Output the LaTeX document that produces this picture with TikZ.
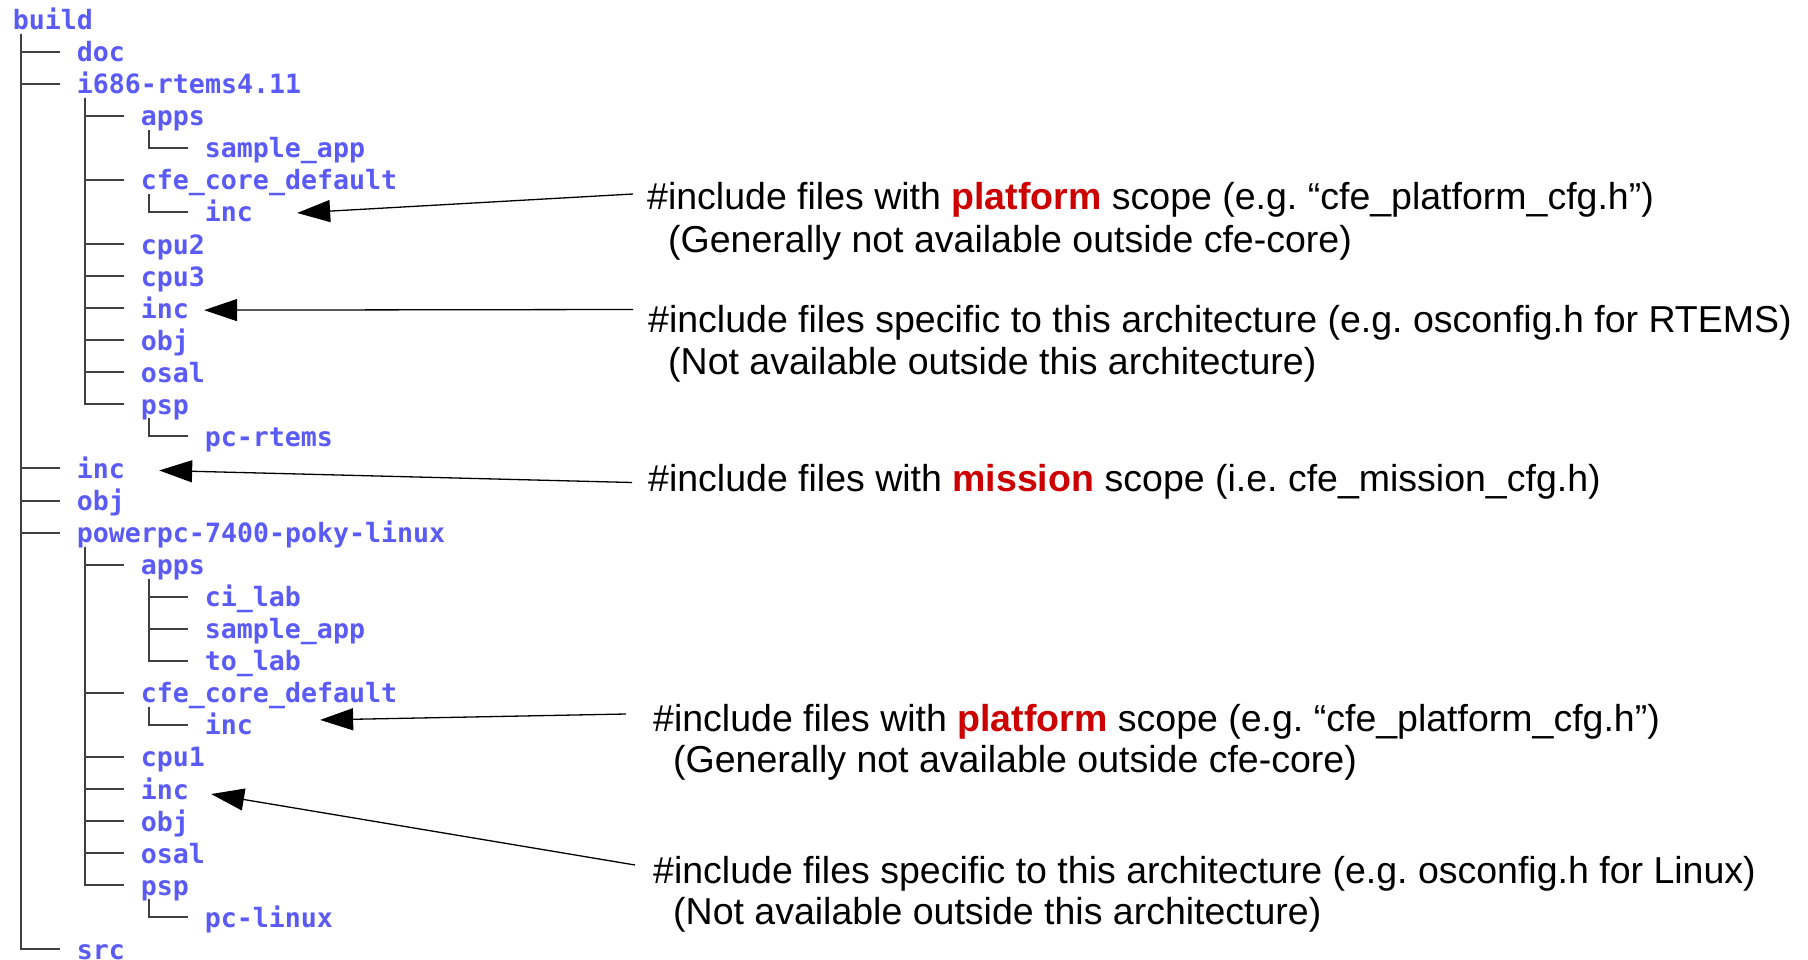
\documentclass[tikz,border=0pt]{standalone}
\usepackage{fontspec}
\setmainfont{Liberation Sans}
\newfontfamily\treefont{DejaVu Sans Mono}
\usetikzlibrary{arrows.meta,calc}
\definecolor{dirblue}{RGB}{90,90,245}
\definecolor{scopered}{RGB}{204,0,0}
\definecolor{branchgray}{RGB}{64,64,64}
\newcommand{\scopeword}[1]{\textcolor{scopered}{\bfseries #1}}
\frenchspacing

\begin{document}
\begin{tikzpicture}[x=1pt,y=-1pt,
  dir/.style={anchor=west,inner sep=0pt,text height=20pt,text depth=0pt,
    font=\treefont\bfseries\fontsize{26.6pt}{32pt}\selectfont,text=dirblue},
  branch/.style={draw=branchgray,line width=2pt},
  note/.style={anchor=base west,inner sep=0pt,
    font=\fontsize{37.5pt}{42pt}\selectfont},
  pointer/.style={line width=1.3pt,-{Triangle[length=33pt,width=22pt]}}]

\useasboundingbox (0,0) rectangle (1808,960);

% directory entries: index / depth / name
\foreach \i/\lev/\name in {
  0/0/build, 1/1/doc, 2/1/i686-rtems4.11, 3/2/apps, 4/3/sample\_app,
  5/2/cfe\_core\_default, 6/3/inc, 7/2/cpu2, 8/2/cpu3, 9/2/inc,
  10/2/obj, 11/2/osal, 12/2/psp, 13/3/pc-rtems, 14/1/inc, 15/1/obj,
  16/1/powerpc-7400-poky-linux, 17/2/apps, 18/3/ci\_lab,
  19/3/sample\_app, 20/3/to\_lab, 21/2/cfe\_core\_default, 22/3/inc,
  23/2/cpu1, 24/2/inc, 25/2/obj, 26/2/osal, 27/2/psp, 28/3/pc-linux,
  29/1/src}
  \node[dir] (n\i) at ({12.7+64*\lev},{19.6+32.06*\i}) {\name};

% tree branches, parent/child
\foreach \p/\c in {
  n0/n1, n0/n2, n0/n14, n0/n15, n0/n16, n0/n29,
  n2/n3, n2/n5, n2/n7, n2/n8, n2/n9, n2/n10, n2/n11, n2/n12,
  n3/n4, n5/n6, n12/n13,
  n16/n17, n16/n21, n16/n23, n16/n24, n16/n25, n16/n26, n16/n27,
  n17/n18, n17/n19, n17/n20, n21/n22, n27/n28}
  \draw[branch] ($(\p.west)+(8,14)$) |- ($(\c.west)+(-17,0)$);

% annotations
\node[note] (a1) at (647,210)
  {\#include files with \scopeword{platform} scope (e.g. “cfe\_platform\_cfg.h”)};
\node[note] (a1b) at (668,253) {(Generally not available outside cfe-core)};
\node[note] (a2) at (648,332)
  {\#include files specific to this architecture (e.g. osconfig.h for RTEMS)};
\node[note] (a2b) at (668,374) {(Not available outside this architecture)};
\node[note] (a3) at (648,491.5)
  {\#include files with \scopeword{mission} scope (i.e. cfe\_mission\_cfg.h)};
\node[note] (a4) at (653,731)
  {\#include files with \scopeword{platform} scope (e.g. “cfe\_platform\_cfg.h”)};
\node[note] (a4b) at (673,772) {(Generally not available outside cfe-core)};
\node[note] (a5) at (653,883)
  {\#include files specific to this architecture (e.g. osconfig.h for Linux)};
\node[note] (a5b) at (673,924) {(Not available outside this architecture)};

% pointers from annotations to include directories
\draw[pointer] ($(a1.base west)+(-14,-16)$) -- ($(n6.east)+(44,1)$);
\draw[pointer] ($(a2.base west)+(-15,-22.5)$) -- ($(n9.east)+(15,2)$);
\draw[pointer] ($(a3.base west)+(-16,-9)$) -- ($(n14.east)+(34,2)$);
\draw[pointer] ($(a4.base west)+(-27,-17)$) -- ($(n22.east)+(67,-5)$);
\draw[pointer] ($(a5.base west)+(-18,-18)$) -- ($(n24.east)+(22,5)$);
\end{tikzpicture}
\end{document}
